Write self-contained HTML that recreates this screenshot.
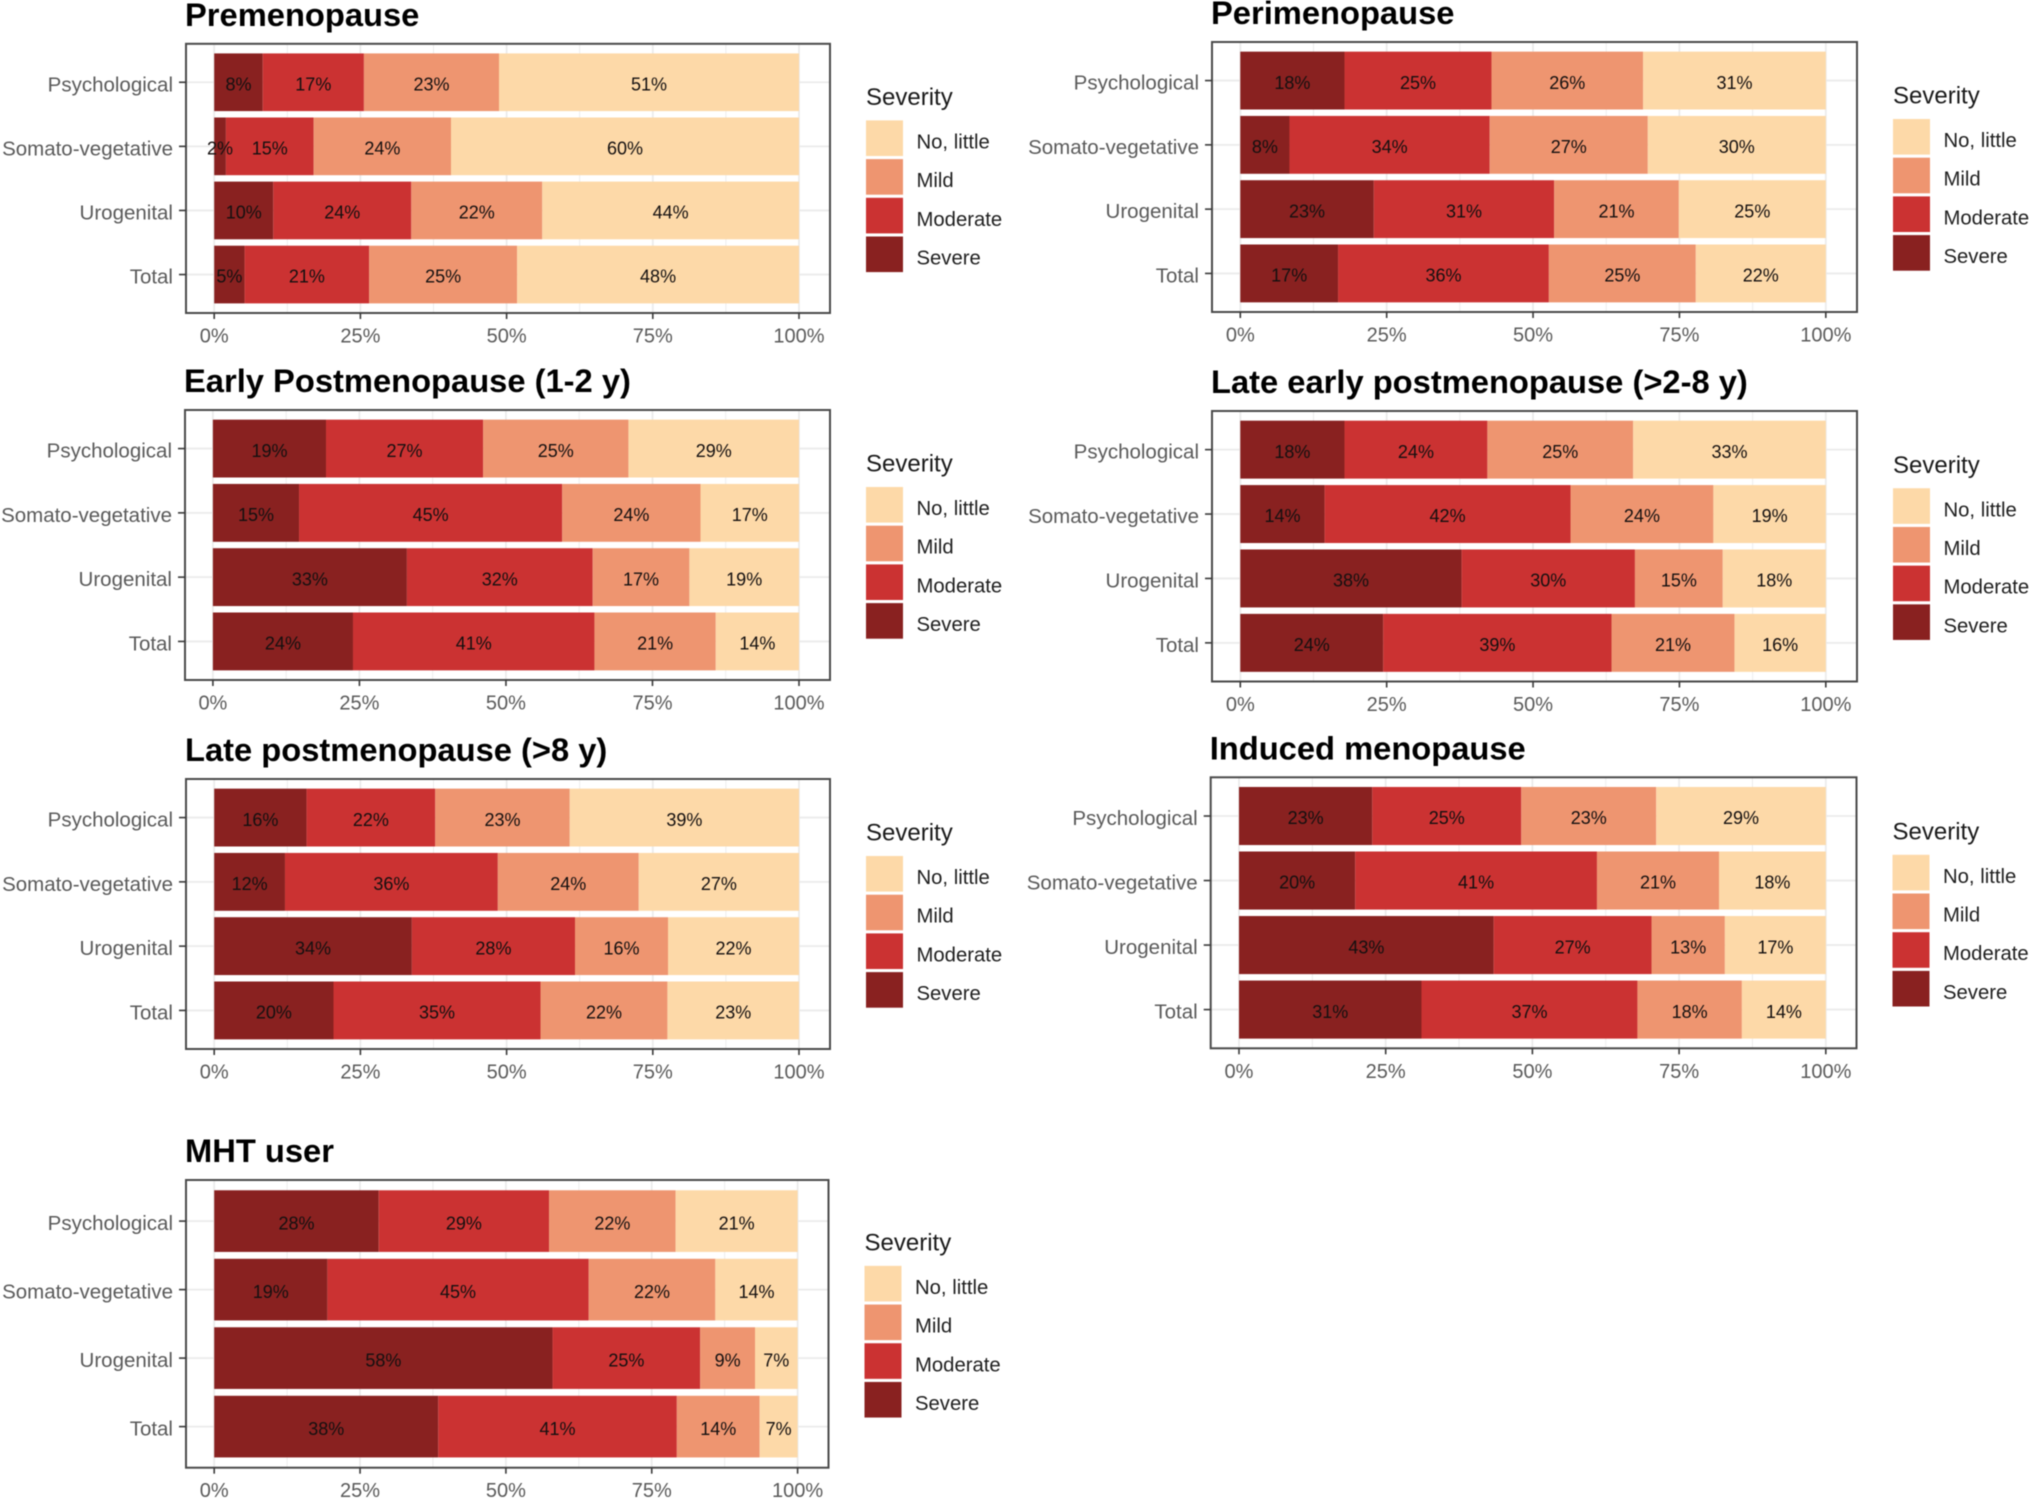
<!DOCTYPE html>
<html lang="en">
<head>
<meta charset="utf-8">
<title>Menopause symptom severity by stage</title>
<style>
  html, body { margin: 0; padding: 0; background: #ffffff; }
  #figure { display: block; width: 2030px; height: 1499px; font-family: "Liberation Sans", Arial, sans-serif; filter: blur(0.45px); }
</style>
</head>
<body>
<svg id="figure" xmlns="http://www.w3.org/2000/svg" width="2030" height="1499" viewBox="0 0 2030 1499"></svg>
<script>
// Shared categories and axis labels
const categories = ["Psychological", "Somato-vegetative", "Urogenital", "Total"];
const severityLevels = ["Severe", "Moderate", "Mild", "No, little"];
const legendOrder = ["No, little", "Mild", "Moderate", "Severe"];
const xTickValues = [0, 25, 50, 75, 100];
const legendTitle = "Severity";

// Premenopause
const premenopauseSevere = [8.3, 2.0, 10.1, 5.2];
const premenopauseModerate = [17.3, 15.0, 23.6, 21.3];
const premenopauseMild = [23.1, 23.5, 22.4, 25.3];
const premenopauseNoLittle = [51.3, 59.5, 43.9, 48.2];

// Perimenopause
const perimenopauseSevere = [17.8, 8.4, 22.8, 16.7];
const perimenopauseModerate = [25.1, 34.2, 30.8, 36.0];
const perimenopauseMild = [25.9, 27.0, 21.3, 25.1];
const perimenopauseNoLittle = [31.2, 30.4, 25.1, 22.2];

// Early postmenopause
const earlyPostSevere = [19.3, 14.7, 33.1, 23.9];
const earlyPostModerate = [26.8, 44.9, 31.7, 41.2];
const earlyPostMild = [24.8, 23.6, 16.5, 20.7];
const earlyPostNoLittle = [29.1, 16.8, 18.7, 14.2];

// Late early postmenopause
const lateEarlySevere = [17.8, 14.4, 37.8, 24.4];
const lateEarlyModerate = [24.4, 42.0, 29.6, 39.0];
const lateEarlyMild = [24.9, 24.4, 15.0, 21.0];
const lateEarlyNoLittle = [32.9, 19.2, 17.6, 15.6];

// Late postmenopause
const latePostSevere = [15.8, 12.1, 33.8, 20.4];
const latePostModerate = [22.0, 36.4, 27.9, 35.4];
const latePostMild = [23.0, 24.1, 15.9, 21.7];
const latePostNoLittle = [39.2, 27.4, 22.4, 22.5];

// Induced menopause
const inducedSevere = [22.7, 19.8, 43.4, 31.1];
const inducedModerate = [25.4, 41.2, 26.9, 36.8];
const inducedMild = [23.0, 20.8, 12.5, 17.8];
const inducedNoLittle = [28.9, 18.2, 17.2, 14.3];

// MHT user
const mhtSevere = [28.2, 19.4, 58.0, 38.4];
const mhtModerate = [29.2, 44.8, 25.3, 40.9];
const mhtMild = [21.7, 21.7, 9.4, 14.2];
const mhtNoLittle = [20.9, 14.1, 7.3, 6.5];

const severityColors = { "Severe": "#892120", "Moderate": "#cb3232", "Mild": "#ee9570", "No, little": "#fdd9a8" };

const panels = [
  { key: "premenopause", title: "Premenopause", left: 186, right: 830, top: 43.8, bottom: 313, zero: 214.2, full: 799,
    series: [premenopauseSevere, premenopauseModerate, premenopauseMild, premenopauseNoLittle] },
  { key: "perimenopause", title: "Perimenopause", left: 1212, right: 1857, top: 42, bottom: 312, zero: 1240.3, full: 1825.8,
    series: [perimenopauseSevere, perimenopauseModerate, perimenopauseMild, perimenopauseNoLittle] },
  { key: "early-postmenopause", title: "Early Postmenopause (1-2 y)", left: 185, right: 830, top: 410, bottom: 680, zero: 212.9, full: 799,
    series: [earlyPostSevere, earlyPostModerate, earlyPostMild, earlyPostNoLittle] },
  { key: "late-early-postmenopause", title: "Late early postmenopause (>2-8 y)", left: 1212, right: 1857, top: 411, bottom: 681.5, zero: 1240.3, full: 1825.8,
    series: [lateEarlySevere, lateEarlyModerate, lateEarlyMild, lateEarlyNoLittle] },
  { key: "late-postmenopause", title: "Late postmenopause (>8 y)", left: 186, right: 830, top: 779, bottom: 1049, zero: 214.2, full: 799,
    series: [latePostSevere, latePostModerate, latePostMild, latePostNoLittle] },
  { key: "induced-menopause", title: "Induced menopause", left: 1210.7, right: 1856.5, top: 777.3, bottom: 1048.3, zero: 1239, full: 1825.8,
    series: [inducedSevere, inducedModerate, inducedMild, inducedNoLittle] },
  { key: "mht-user", title: "MHT user", left: 186, right: 828.5, top: 1180, bottom: 1467.7, zero: 214.2, full: 797.6,
    series: [mhtSevere, mhtModerate, mhtMild, mhtNoLittle] }
];

const SVG_NS = "http://www.w3.org/2000/svg";
const figure = document.getElementById("figure");

function make(tag, attrs, parent) {
  const node = document.createElementNS(SVG_NS, tag);
  for (const k in attrs) node.setAttribute(k, attrs[k]);
  parent.appendChild(node);
  return node;
}

function slug(text) {
  return text.toLowerCase().replace(/[^a-z0-9]+/g, "-");
}

function drawPanel(p) {
  const xScale = function (v) { return p.zero + (p.full - p.zero) * v / 100; };
  const band = (p.bottom - p.top) / 4.2;
  const yScale = function (i) { return p.top + (0.6 + i) * band; };
  const barHeight = band * 0.9;

  const g = make("g", {}, figure);
  
  

  const title = make("text", { x: p.left - 1, y: p.top - 18, "font-size": 32.7, "font-weight": "bold", fill: "#000000" }, g);
  title.textContent = p.title;
  
  

  // Minor vertical grid, midway between major ticks
  for (let i = 0; i < xTickValues.length - 1; i++) {
    const mx = xScale((xTickValues[i] + xTickValues[i + 1]) / 2);
    const minor = make("line", { x1: mx, x2: mx, y1: p.top, y2: p.bottom, stroke: "#ededed", "stroke-width": 1 }, g);
    
    
  }
  // Major vertical grid
  xTickValues.forEach(function (t) {
    const gx = make("line", { x1: xScale(t), x2: xScale(t), y1: p.top, y2: p.bottom, stroke: "#ebebeb", "stroke-width": 1.8 }, g);
    
    
  });
  // Horizontal grid
  categories.forEach(function (c, i) {
    const gy = make("line", { x1: p.left, x2: p.right, y1: yScale(i), y2: yScale(i), stroke: "#ebebeb", "stroke-width": 1.8 }, g);
    
    
  });

  // Stacked bars
  categories.forEach(function (c, i) {
    let running = 0;
    severityLevels.forEach(function (level, s) {
      const v = p.series[s][i];
      const x1 = xScale(running);
      const x2 = xScale(running + v);
      const rect = make("rect", { x: x1, y: yScale(i) - barHeight / 2, width: x2 - x1, height: barHeight, fill: severityColors[level] }, g);
      
      
      running += v;
    });
  });

  // Value labels, drawn above all bars
  categories.forEach(function (c, i) {
    let running = 0;
    severityLevels.forEach(function (level, s) {
      const v = p.series[s][i];
      const label = make("text", { x: xScale(running + v / 2), y: yScale(i) + 8.2, "font-size": 18, "text-anchor": "middle", fill: "#141010" }, g);
      label.textContent = Math.round(v) + "%";
      
      
      running += v;
    });
  });

  // Panel border
  const border = make("rect", { x: p.left, y: p.top, width: p.right - p.left, height: p.bottom - p.top, fill: "none", stroke: "#4a4a4a", "stroke-width": 2 }, g);
  
  

  // Y axis
  categories.forEach(function (c, i) {
    const tick = make("line", { x1: p.left - 7, x2: p.left, y1: yScale(i), y2: yScale(i), stroke: "#3a3a3a", "stroke-width": 1.6 }, g);
    
    
    const lab = make("text", { x: p.left - 13, y: yScale(i) + 9, "font-size": 20.5, "text-anchor": "end", fill: "#5a5a5a" }, g);
    lab.textContent = c;
    
    
  });

  // X axis
  xTickValues.forEach(function (t) {
    const tick = make("line", { x1: xScale(t), x2: xScale(t), y1: p.bottom, y2: p.bottom + 6, stroke: "#3a3a3a", "stroke-width": 1.6 }, g);
    
    
    const lab = make("text", { x: xScale(t), y: p.bottom + 29.5, "font-size": 20, "text-anchor": "middle", fill: "#5a5a5a" }, g);
    lab.textContent = t + "%";
    
    
  });

  // Legend
  const legendX = p.right + 36;
  const legendTop = (p.top + p.bottom) / 2 - 58;
  const legend = make("g", {}, g);
  
  
  const lt = make("text", { x: legendX, y: legendTop - 15.5, "font-size": 24, fill: "#1a1a1a" }, legend);
  lt.textContent = legendTitle;
  
  
  legendOrder.forEach(function (level, i) {
    const y = legendTop + i * 38.7;
    const swatch = make("rect", { x: legendX, y: y, width: 37, height: 35.6, fill: severityColors[level] }, legend);
    
    
    const lab = make("text", { x: legendX + 50.5, y: y + 28, "font-size": 20.3, fill: "#1f1f1f" }, legend);
    lab.textContent = level;
    
    
  });
}

panels.forEach(drawPanel);
</script>
</body>
</html>
